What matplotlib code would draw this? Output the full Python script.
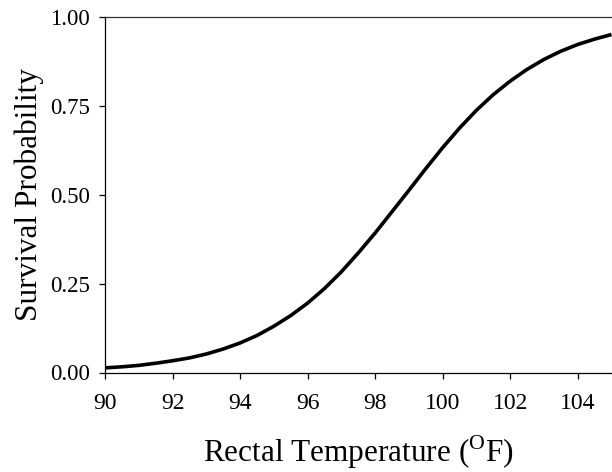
import matplotlib
matplotlib.use("Agg")
import matplotlib.pyplot as plt

# survival probability, every half degree
temps = [90.0, 90.5, 91.0, 91.5, 92.0, 92.5, 93.0, 93.5, 94.0, 94.5,
         95.0, 95.5, 96.0, 96.5, 97.0, 97.5, 98.0, 98.5, 99.0, 99.5,
         100.0, 100.5, 101.0, 101.5, 102.0, 102.5, 103.0, 103.5, 104.0, 104.5, 105.0]
survival = [0.013, 0.016, 0.020, 0.026, 0.033, 0.041, 0.052, 0.066, 0.083, 0.104,
            0.130, 0.160, 0.195, 0.236, 0.283, 0.336, 0.392, 0.452, 0.512, 0.573,
            0.632, 0.687, 0.737, 0.781, 0.819, 0.852, 0.880, 0.903, 0.922, 0.937, 0.950]

x_ticks = [90, 92, 94, 96, 98, 100, 102, 104]
y_ticks = [0.00, 0.25, 0.50, 0.75, 1.00]

plt.rcParams['font.family'] = ['Liberation Serif', 'DejaVu Serif']
plt.rcParams['mathtext.fontset'] = 'custom'
plt.rcParams['mathtext.rm'] = 'Liberation Serif'

fig = plt.figure(figsize=(6.12, 4.72), dpi=100)
ax = fig.add_axes([105 / 612, 1 - 372.5 / 472, (611.5 - 105) / 612, (372.5 - 16.7) / 472])

ax.plot(temps, survival, color='black', linewidth=2.6, solid_capstyle='butt')

ax.set_xlim(90, 105)
ax.set_ylim(0, 1)
ax.set_xticks(x_ticks)
ax.set_yticks(y_ticks)
ax.set_yticklabels([f"{v:.2f}" for v in y_ticks])

ax.tick_params(axis='x', direction='out', length=4, width=0.9, labelsize=17, pad=11)
ax.tick_params(axis='y', direction='out', length=4, width=0.9, labelsize=16.5, pad=7)

for side in ['left', 'bottom', 'top']:
    ax.spines[side].set_linewidth(0.9)
    ax.spines[side].set_color('black')
ax.spines['top'].set_color('#333333')
ax.spines['right'].set_color('#cccccc')
ax.spines['right'].set_linewidth(0.8)

ax.set_xlabel(r"Rectal Temperature ($^{\mathrm{O}}$F)", fontsize=22.5, labelpad=14)
ax.set_ylabel("Survival Probability", fontsize=22.5, labelpad=4)

fig.savefig("out.png", dpi=100)
